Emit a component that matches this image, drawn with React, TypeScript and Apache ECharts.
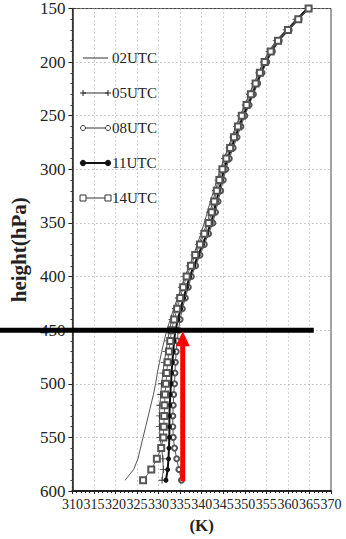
import React, { useEffect, useRef } from "react";
import * as echarts from "echarts";

const pressureLevels = [150, 160, 170, 180, 190, 200, 210, 220, 230, 240, 250, 260, 270, 280, 290, 300, 310, 320, 330, 340, 350, 360, 370, 380, 390, 400, 410, 420, 430, 440, 450, 460, 470, 480, 490, 500, 510, 520, 530, 540, 550, 560, 570, 580, 590];

const theta02 = [364.4, 362.0, 359.6, 357.3, 355.6, 354.3, 353.2, 352.1, 351.0, 350.0, 348.9, 347.9, 347.0, 346.1, 345.2, 344.3, 343.5, 342.8, 342.0, 341.3, 340.6, 339.8, 339.0, 338.1, 337.2, 336.2, 335.3, 334.4, 333.5, 332.7, 331.9, 331.3, 330.7, 330.2, 329.7, 329.3, 328.8, 328.2, 327.6, 327.0, 326.4, 325.8, 325.2, 324.2, 322.2];
const theta05 = [364.3, 361.9, 359.6, 357.3, 355.6, 354.3, 353.2, 352.2, 351.1, 350.1, 349.0, 348.1, 347.2, 346.3, 345.3, 344.5, 343.8, 343.2, 342.6, 341.9, 341.3, 340.3, 339.3, 338.2, 337.1, 336.1, 335.3, 334.6, 333.9, 333.1, 332.5, 332.1, 331.7, 331.3, 331.0, 330.7, 330.5, 330.3, 330.2, 330.2, 330.3, 330.7, 331.0, 331.1, 330.8];
const theta08 = [364.9, 362.6, 360.3, 358.0, 356.4, 355.1, 354.0, 353.0, 352.0, 351.0, 350.0, 349.1, 348.2, 347.3, 346.4, 345.6, 345.0, 344.4, 343.8, 343.2, 342.6, 341.6, 340.6, 339.6, 338.6, 337.6, 336.9, 336.2, 335.5, 335.0, 334.6, 334.3, 334.1, 333.9, 333.8, 333.7, 333.5, 333.4, 333.3, 333.3, 333.4, 333.7, 334.2, 334.7, 335.3];
const theta11 = [364.6, 362.3, 360.0, 357.7, 356.1, 354.8, 353.7, 352.7, 351.7, 350.7, 349.6, 348.7, 347.8, 346.9, 346.0, 345.2, 344.6, 344.0, 343.4, 342.8, 342.2, 341.2, 340.2, 339.2, 338.2, 337.2, 336.5, 335.8, 335.1, 334.5, 333.9, 333.6, 333.4, 333.2, 333.0, 332.9, 332.7, 332.6, 332.5, 332.5, 332.5, 332.4, 332.3, 332.1, 331.7];
const theta14 = [364.8, 362.4, 360.0, 357.7, 356.0, 354.6, 353.5, 352.5, 351.4, 350.4, 349.3, 348.4, 347.5, 346.6, 345.7, 344.8, 344.1, 343.5, 342.9, 342.3, 341.6, 340.6, 339.6, 338.5, 337.5, 336.5, 335.7, 335.0, 334.3, 333.6, 333.0, 332.7, 332.4, 332.1, 331.9, 331.7, 331.5, 331.4, 331.3, 331.2, 331.1, 330.6, 329.6, 328.3, 326.4];

const seriesNames = ["02UTC", "05UTC", "08UTC", "11UTC", "14UTC"];

// annotation values (data units)
const annotLevel = 450;
const annotLineEndK = 366;
const arrowK = 335.6;
const arrowBottomP = 591;

const FONT = "'Liberation Serif', 'DejaVu Serif', 'Times New Roman', serif";
const PLUS = "path://M0,4.4H10V5.6H0Z M4.4,0H5.6V10H4.4Z";

const pairs = (vals: number[]) => pressureLevels.map((p, i) => [vals[i], p]);

export default function App() {
  const ref = useRef<HTMLDivElement>(null);
  useEffect(() => {
    document.body.style.margin = "0";
    const el = ref.current!;
    const chart = echarts.init(el, null, { renderer: "svg" });
    const option: any = {
      animation: false,
      backgroundColor: "#ffffff",
      grid: { left: 67, right: 15, top: 6, bottom: 46, show: true, borderColor: "#444", borderWidth: 1 },
      xAxis: {
        type: "value",
        min: 310,
        max: 370,
        interval: 5,
        name: "(K)",
        nameLocation: "middle",
        nameGap: 26,
        nameTextStyle: { fontFamily: FONT, fontSize: 17, fontWeight: "bold", color: "#222" },
        axisLine: { show: true, lineStyle: { color: "#222", width: 2 } },
        axisTick: { show: true, length: 3, lineStyle: { color: "#222" } },
        minorTick: { show: true, splitNumber: 5, length: 2, lineStyle: { color: "#222" } },
        axisLabel: { fontFamily: FONT, fontSize: 14, color: "#222", margin: 6 },
        splitLine: { show: true, lineStyle: { color: "#aaa", type: [1, 3], width: 1 } },
      },
      yAxis: {
        type: "value",
        inverse: true,
        min: 150,
        max: 600,
        interval: 50,
        name: "height(hPa)",
        nameLocation: "middle",
        nameGap: 29,
        nameRotate: 90,
        nameTextStyle: { fontFamily: FONT, fontSize: 21, fontWeight: "bold", color: "#222" },
        axisLine: { show: true, lineStyle: { color: "#222", width: 1.5 } },
        axisTick: { show: true, length: 4, lineStyle: { color: "#222" } },
        minorTick: { show: true, splitNumber: 5, length: 2, lineStyle: { color: "#444" } },
        axisLabel: { fontFamily: FONT, fontSize: 17, color: "#222", margin: 7 },
        splitLine: { show: true, lineStyle: { color: "#999", type: [1, 3], width: 1 } },
      },
      series: [
        {
          name: seriesNames[0], type: "line", data: pairs(theta02), symbol: "none",
          lineStyle: { color: "#555", width: 1 }, z: 2,
        },
        {
          name: seriesNames[1], type: "line", data: pairs(theta05), symbol: PLUS, symbolSize: 7,
          showAllSymbol: true, itemStyle: { color: "#333" }, lineStyle: { color: "#555", width: 1 }, z: 3,
        },
        {
          name: seriesNames[2], type: "line", data: pairs(theta08), symbol: "emptyCircle", symbolSize: 5,
          showAllSymbol: true, itemStyle: { color: "#555", borderWidth: 1 }, lineStyle: { color: "#555", width: 1 }, z: 4,
        },
        {
          name: seriesNames[3], type: "line", data: pairs(theta11), symbol: "circle", symbolSize: 5,
          showAllSymbol: true, itemStyle: { color: "#111" }, lineStyle: { color: "#111", width: 2 }, z: 5,
        },
        {
          name: seriesNames[4], type: "line", data: pairs(theta14), symbol: "emptyRect", symbolSize: 6,
          showAllSymbol: true, itemStyle: { color: "#555", borderWidth: 1 }, lineStyle: { color: "#666", width: 1 }, z: 6,
        },
      ],
    };
    chart.setOption(option);

    const [lineEndX, lineY] = chart.convertToPixel({ gridIndex: 0 }, [annotLineEndK, annotLevel]) as number[];
    const [arrowX, arrowBottomY] = chart.convertToPixel({ gridIndex: 0 }, [arrowK, arrowBottomP]) as number[];
    const tipY = lineY + 1;

    // legend drawn as graphic (line with markers at both ends)
    const legendX0 = 83;
    const legendX1 = 108;
    const legendTop = 58;
    const legendStep = 35;
    const legendEls: any[] = [];
    seriesNames.forEach((name, i) => {
      const y = legendTop + i * legendStep;
      legendEls.push({
        type: "line",
        shape: { x1: legendX0, y1: y, x2: legendX1, y2: y },
        style: { stroke: i === 3 ? "#111" : "#333", lineWidth: i === 3 ? 2 : 1 },
        z: 10,
      });
      [legendX0, legendX1].forEach((x) => {
        if (i === 1) {
          legendEls.push({ type: "line", shape: { x1: x - 3, y1: y, x2: x + 3, y2: y }, style: { stroke: "#222", lineWidth: 1 }, z: 11 });
          legendEls.push({ type: "line", shape: { x1: x, y1: y - 3, x2: x, y2: y + 3 }, style: { stroke: "#222", lineWidth: 1 }, z: 11 });
        } else if (i === 2) {
          legendEls.push({ type: "circle", shape: { cx: x, cy: y, r: 2.5 }, style: { fill: "#fff", stroke: "#333", lineWidth: 1 }, z: 11 });
        } else if (i === 3) {
          legendEls.push({ type: "circle", shape: { cx: x, cy: y, r: 2.7 }, style: { fill: "#111", stroke: "#111" }, z: 11 });
        } else if (i === 4) {
          legendEls.push({ type: "rect", shape: { x: x - 3, y: y - 3, width: 6, height: 6 }, style: { fill: "#fff", stroke: "#333", lineWidth: 1 }, z: 11 });
        }
      });
      legendEls.push({
        type: "text",
        x: legendX1 + 4,
        y,
        style: { text: name, fontFamily: FONT, fontSize: 15, fill: "#222", verticalAlign: "middle", align: "left" },
        z: 11,
      });
    });

    const annotEls: any[] = [
      {
        type: "line",
        shape: { x1: 0, y1: lineY, x2: lineEndX, y2: lineY },
        style: { stroke: "#000", lineWidth: 5 },
        z: 20,
      },
      {
        type: "rect",
        shape: { x: arrowX - 2.5, y: tipY + 12, width: 5, height: arrowBottomY - tipY - 12 },
        style: { fill: "#ff0000" },
        z: 21,
      },
      {
        type: "polygon",
        shape: { points: [[arrowX - 7, tipY + 15], [arrowX + 7, tipY + 15], [arrowX, tipY]] },
        style: { fill: "#ff0000" },
        z: 21,
      },
    ];

    chart.setOption({ graphic: [...legendEls, ...annotEls] });
    return () => chart.dispose();
  }, []);
  return <div ref={ref} style={{ width: 346, height: 539 }} />;
}
